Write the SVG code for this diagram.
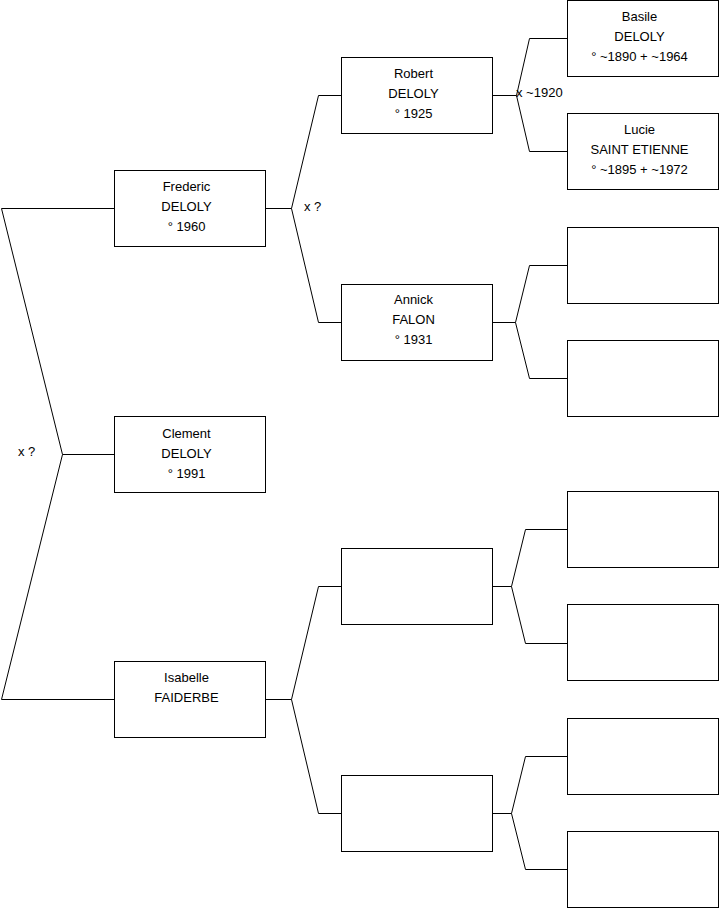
<svg xmlns="http://www.w3.org/2000/svg" width="719" height="908" viewBox="0 0 719 908">
<style>
rect.b{fill:#fff;stroke:#000;stroke-width:1}
.c path{fill:none;stroke:#000;stroke-width:1}
text{font-family:"Liberation Sans",Arial,sans-serif;font-size:13px;fill:#000}
text.m{text-anchor:middle}
</style>
<rect width="719" height="908" fill="#fff"/>
<g id="connectors" class="c">
<path d="M114.5 208.5H1.5L62.5 454.5L1.5 699.5H114.5M62.5 454.5H114.5"/>
<path d="M265.5 208.5H291.5L318.5 95.5H341.5M291.5 208.5L318.5 322.5H341.5"/>
<path d="M265.5 699.5H291.5L318.5 586.5H341.5M291.5 699.5L318.5 813.5H341.5"/>
<path d="M492.5 95.5H516.5L529.5 38.5H567.5M516.5 95.5L529.5 151.5H567.5"/>
<path d="M492.5 322.5H515.5L529.5 265.5H567.5M515.5 322.5L529.5 378.5H567.5"/>
<path d="M492.5 586.5H511.5L525.5 529.5H567.5M511.5 586.5L525.5 643.5H567.5"/>
<path d="M492.5 813.5H511.5L525.5 756.5H567.5M511.5 813.5L525.5 869.5H567.5"/>
</g>
<g id="labels">
<text x="18" y="456">x ?</text>
<text x="304" y="211">x ?</text>
<text x="516" y="97">x ~1920</text>
</g>
<g id="frederic"><rect class="b" x="114.5" y="170.5" width="151" height="76"/>
<text class="m" x="186.5" y="191">Frederic</text><text class="m" x="186.5" y="211">DELOLY</text><text class="m" x="186.5" y="231">° 1960</text></g>
<g id="clement"><rect class="b" x="114.5" y="416.5" width="151" height="76"/>
<text class="m" x="186.5" y="438">Clement</text><text class="m" x="186.5" y="458">DELOLY</text><text class="m" x="186.5" y="478">° 1991</text></g>
<g id="isabelle"><rect class="b" x="114.5" y="661.5" width="151" height="76"/>
<text class="m" x="186.5" y="682">Isabelle</text><text class="m" x="186.5" y="702">FAIDERBE</text></g>
<g id="robert"><rect class="b" x="341.5" y="57.5" width="151" height="76"/>
<text class="m" x="413.5" y="78">Robert</text><text class="m" x="413.5" y="98">DELOLY</text><text class="m" x="413.5" y="118">° 1925</text></g>
<g id="annick"><rect class="b" x="341.5" y="284.5" width="151" height="76"/>
<text class="m" x="413.5" y="304">Annick</text><text class="m" x="413.5" y="324">FALON</text><text class="m" x="413.5" y="344">° 1931</text></g>
<g id="father2"><rect class="b" x="341.5" y="548.5" width="151" height="76"/></g>
<g id="mother2"><rect class="b" x="341.5" y="775.5" width="151" height="76"/></g>
<g id="basile"><rect class="b" x="567.5" y="0.5" width="151" height="76"/>
<text class="m" x="639.5" y="21">Basile</text><text class="m" x="639.5" y="41">DELOLY</text><text class="m" x="639.5" y="61">° ~1890 + ~1964</text></g>
<g id="lucie"><rect class="b" x="567.5" y="113.5" width="151" height="76"/>
<text class="m" x="639.5" y="134">Lucie</text><text class="m" x="639.5" y="154">SAINT ETIENNE</text><text class="m" x="639.5" y="174">° ~1895 + ~1972</text></g>
<g id="gp3"><rect class="b" x="567.5" y="227.5" width="151" height="76"/></g>
<g id="gp4"><rect class="b" x="567.5" y="340.5" width="151" height="76"/></g>
<g id="gp5"><rect class="b" x="567.5" y="491.5" width="151" height="76"/></g>
<g id="gp6"><rect class="b" x="567.5" y="604.5" width="151" height="76"/></g>
<g id="gp7"><rect class="b" x="567.5" y="718.5" width="151" height="76"/></g>
<g id="gp8"><rect class="b" x="567.5" y="831.5" width="151" height="76"/></g>
</svg>
